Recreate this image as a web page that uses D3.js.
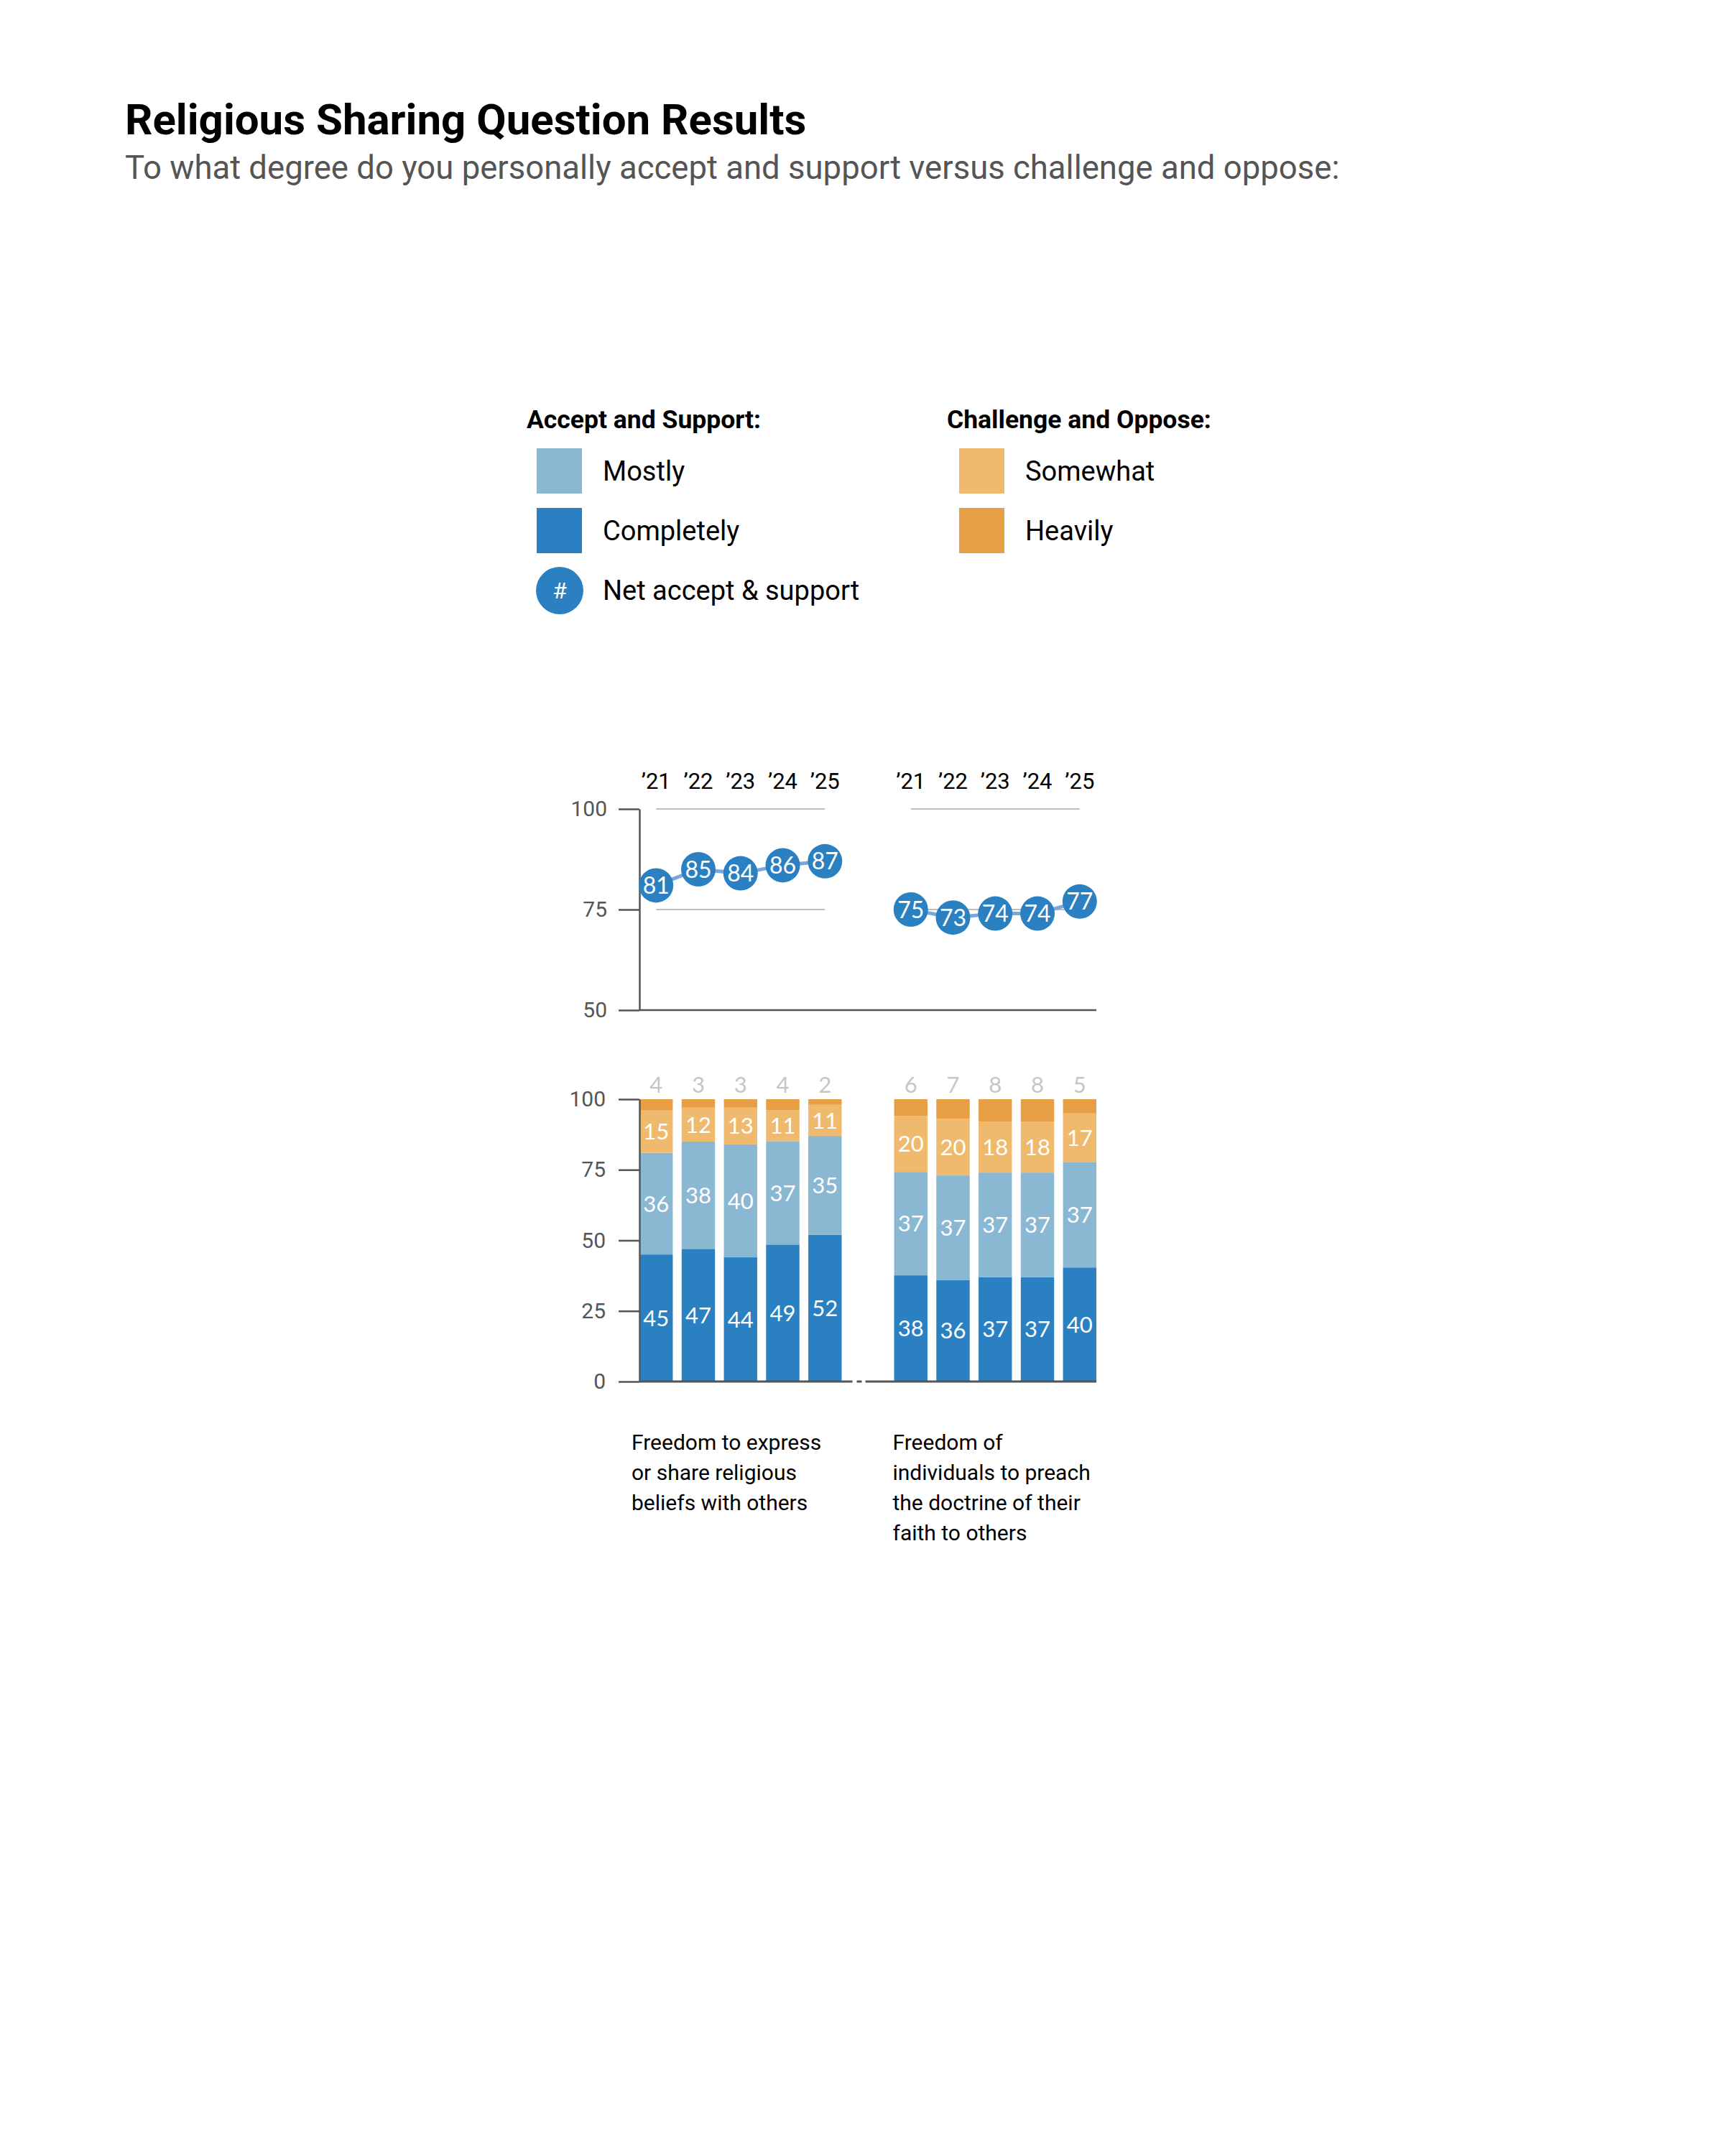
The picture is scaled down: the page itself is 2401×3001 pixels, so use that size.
<!DOCTYPE html>
<html>
<head>
<meta charset="utf-8">
<script src="https://cdn.jsdelivr.net/npm/d3@7"></script>
<style>
  body { margin: 0; background: #fff; }
  text { font-family: Roboto, 'Liberation Sans', sans-serif; }
  .num { font-family: Lato, Roboto, sans-serif; }
</style>
</head>
<body>
<div id="chart"></div>
<script>
// data
const groups = ['express', 'preach']
const groupLabels = [
  ['Freedom to express', 'or share religious', 'beliefs with others'],
  ['Freedom of', 'individuals to preach', 'the doctrine of their', 'faith to others'],
]
const years = ['\u201921', '\u201922', '\u201923', '\u201924', '\u201925']
const completely = [[45, 47, 44, 49, 52], [38, 36, 37, 37, 40]]
const mostly = [[36, 38, 40, 37, 35], [37, 37, 37, 37, 37]]
const somewhat = [[15, 12, 13, 11, 11], [20, 20, 18, 18, 17]]
const heavily = [[4, 3, 3, 4, 2], [6, 7, 8, 8, 5]]
const net = [[81, 85, 84, 86, 87], [75, 73, 74, 74, 77]]
const topTicks = [50, 75, 100]
const barTicks = [0, 25, 50, 75, 100]

const keys = ['completely', 'mostly', 'somewhat', 'heavily']
const colors = {
  completely: '#2b80c2',
  mostly: '#8ab8d3',
  somewhat: '#f0ba6e',
  heavily: '#e79f45',
}

const rows = []
groups.forEach((g, gi) => {
  years.forEach((y, yi) => {
    rows.push({
      group: g,
      year: y,
      completely: completely[gi][yi],
      mostly: mostly[gi][yi],
      somewhat: somewhat[gi][yi],
      heavily: heavily[gi][yi],
      net: net[gi][yi],
    })
  })
})

const svg = d3
  .select('#chart')
  .append('svg')
  .attr('width', 2401)
  .attr('height', 3001)

// title
svg
  .append('text')
  .attr('x', 174)
  .attr('y', 187)
  .attr('font-size', 60)
  .attr('font-weight', 700)
  .attr('fill', '#000')
  .text('Religious Sharing Question Results')

svg
  .append('text')
  .attr('x', 174)
  .attr('y', 249)
  .attr('font-size', 45.5)
  .attr('fill', '#555')
  .text('To what degree do you personally accept and support versus challenge and oppose:')

// legend
const legend = svg.append('g')
legend
  .append('text')
  .attr('x', 733)
  .attr('y', 596)
  .attr('font-size', 35.5)
  .attr('font-weight', 700)
  .text('Accept and Support:')
legend
  .append('text')
  .attr('x', 1318)
  .attr('y', 596)
  .attr('font-size', 35.5)
  .attr('font-weight', 700)
  .text('Challenge and Oppose:')

const legendItems = [
  { key: 'mostly', label: 'Mostly', x: 747, y: 624 },
  { key: 'completely', label: 'Completely', x: 747, y: 707 },
  { key: 'somewhat', label: 'Somewhat', x: 1335, y: 624 },
  { key: 'heavily', label: 'Heavily', x: 1335, y: 707 },
]
legendItems.forEach((d) => {
  legend
    .append('rect')
    .attr('x', d.x)
    .attr('y', d.y)
    .attr('width', 63)
    .attr('height', 63)
    .attr('fill', colors[d.key])
  legend
    .append('text')
    .attr('x', d.x + 92)
    .attr('y', d.y + 32)
    .attr('dy', '0.35em')
    .attr('font-size', 38)
    .text(d.label)
})
legend
  .append('circle')
  .attr('cx', 779)
  .attr('cy', 822)
  .attr('r', 33)
  .attr('fill', colors.completely)
legend
  .append('text')
  .attr('x', 779)
  .attr('y', 822)
  .attr('dy', '0.35em')
  .attr('text-anchor', 'middle')
  .attr('font-size', 32)
  .attr('fill', '#fff')
  .text('#')
legend
  .append('text')
  .attr('x', 839)
  .attr('y', 822)
  .attr('dy', '0.35em')
  .attr('font-size', 38)
  .text('Net accept & support')

// scales
const x0 = d3.scaleBand().domain(groups).range([890, 1526]).paddingInner(0.206)
const x1 = d3.scaleBand().domain(years).range([0, x0.bandwidth()]).paddingInner(0.21)
const cx = (d) => x0(d.group) + x1(d.year) + x1.bandwidth() / 2

const yTop = d3.scaleLinear().domain([50, 100]).range([1406, 1126])
const yBar = d3.scaleLinear().domain([0, 100]).range([1923, 1530])

// ---- top chart: net accept & support ----
const netChart = svg.append('g')

// gridlines at 75 and 100
groups.forEach((g) => {
  const first = x0(g) + x1(years[0]) + x1.bandwidth() / 2
  const last = x0(g) + x1(years[years.length - 1]) + x1.bandwidth() / 2
  ;[75, 100].forEach((v) => {
    netChart
      .append('line')
      .attr('x1', first)
      .attr('x2', last)
      .attr('y1', yTop(v))
      .attr('y2', yTop(v))
      .attr('stroke', '#a8a8a8')
      .attr('stroke-width', 1.5)
  })
})

const topAxis = netChart
  .append('g')
  .attr('transform', 'translate(890,0)')
  .call(
    d3.axisLeft(yTop).tickValues(topTicks).tickSize(29).tickSizeOuter(0).tickPadding(16)
  )
topAxis.selectAll('path, line').attr('stroke', '#555').attr('stroke-width', 2.5)
topAxis.selectAll('text').attr('font-size', 30).attr('fill', '#555').attr('font-family', 'Roboto')

netChart
  .append('line')
  .attr('x1', 890)
  .attr('x2', 1526)
  .attr('y1', yTop(50))
  .attr('y2', yTop(50))
  .attr('stroke', '#555')
  .attr('stroke-width', 2.5)

// year labels
netChart
  .selectAll('.year')
  .data(rows)
  .join('text')
  .attr('class', 'year')
  .attr('x', cx)
  .attr('y', 1098)
  .attr('text-anchor', 'middle')
  .attr('font-size', 31)
  .attr('fill', '#000')
  .text((d) => d.year)

const line = d3
  .line()
  .x(cx)
  .y((d) => yTop(d.net))

groups.forEach((g) => {
  netChart
    .append('path')
    .datum(rows.filter((r) => r.group === g))
    .attr('fill', 'none')
    .attr('stroke', '#7ba7dd')
    .attr('stroke-width', 5)
    .attr('d', line)
})

netChart
  .selectAll('.net-dot')
  .data(rows)
  .join('circle')
  .attr('class', 'net-dot')
  .attr('cx', cx)
  .attr('cy', (d) => yTop(d.net))
  .attr('r', 24)
  .attr('fill', colors.completely)

netChart
  .selectAll('.net-label')
  .data(rows)
  .join('text')
  .attr('class', 'net-label num')
  .attr('x', cx)
  .attr('y', (d) => yTop(d.net))
  .attr('dy', '0.36em')
  .attr('text-anchor', 'middle')
  .attr('font-size', 32)
  .attr('fill', '#fff')
  .text((d) => d.net)

// ---- bottom chart: stacked bars ----
const bars = svg.append('g')
const stacked = d3.stack().keys(keys).offset(d3.stackOffsetExpand)(rows)

stacked.forEach((s) => {
  bars
    .selectAll(`.${s.key}-bar`)
    .data(s)
    .join('rect')
    .attr('class', `${s.key}-bar`)
    .attr('x', (d) => x0(d.data.group) + x1(d.data.year))
    .attr('width', x1.bandwidth())
    .attr('y', (d) => yBar(d[1] * 100))
    .attr('height', (d) => yBar(d[0] * 100) - yBar(d[1] * 100))
    .attr('fill', colors[s.key])

  if (s.key !== 'heavily') {
    bars
      .selectAll(`.${s.key}-label`)
      .data(s)
      .join('text')
      .attr('class', `${s.key}-label num`)
      .attr('x', (d) => x0(d.data.group) + x1(d.data.year) + x1.bandwidth() / 2)
      .attr('y', (d) => yBar(((d[0] + d[1]) / 2) * 100))
      .attr('dy', '0.36em')
      .attr('text-anchor', 'middle')
      .attr('font-size', 31)
      .attr('fill', '#fff')
      .text((d) => d.data[s.key])
  } else {
    bars
      .selectAll('.heavily-label')
      .data(s)
      .join('text')
      .attr('class', 'heavily-label num')
      .attr('x', (d) => x0(d.data.group) + x1(d.data.year) + x1.bandwidth() / 2)
      .attr('y', yBar(100) - 20)
      .attr('dy', '0.36em')
      .attr('text-anchor', 'middle')
      .attr('font-size', 31)
      .attr('fill', '#c6c6c6')
      .text((d) => d.data.heavily)
  }
})

const barAxis = bars
  .append('g')
  .attr('transform', 'translate(890,0)')
  .call(
    d3.axisLeft(yBar).tickValues(barTicks).tickSize(29).tickSizeOuter(0).tickPadding(18)
  )
barAxis.selectAll('path, line').attr('stroke', '#555').attr('stroke-width', 2.5)
barAxis.selectAll('text').attr('font-size', 30).attr('fill', '#555').attr('font-family', 'Roboto')

// baseline with a small break between the two groups
const gapStart = x0(groups[0]) + x0.bandwidth() + 15
const gapEnd = x0(groups[1]) - 40
;[
  [890, gapStart],
  [gapStart + 6, gapStart + 13],
  [gapEnd, 1526],
].forEach(([a, b]) => {
  bars
    .append('line')
    .attr('x1', a)
    .attr('x2', b)
    .attr('y1', yBar(0))
    .attr('y2', yBar(0))
    .attr('stroke', '#555')
    .attr('stroke-width', 3)
})

// category labels
const labelOffsets = [-11, -2]
groupLabels.forEach((lines, gi) => {
  const lx = x0(groups[gi]) + labelOffsets[gi]
  const t = svg
    .append('text')
    .attr('x', lx)
    .attr('y', 2007)
    .attr('font-size', 30)
    .attr('fill', '#000')
  lines.forEach((l, li) => {
    t.append('tspan')
      .attr('x', lx)
      .attr('dy', li === 0 ? '0.35em' : 42.1)
      .text(l)
  })
})
</script>
</body>
</html>
